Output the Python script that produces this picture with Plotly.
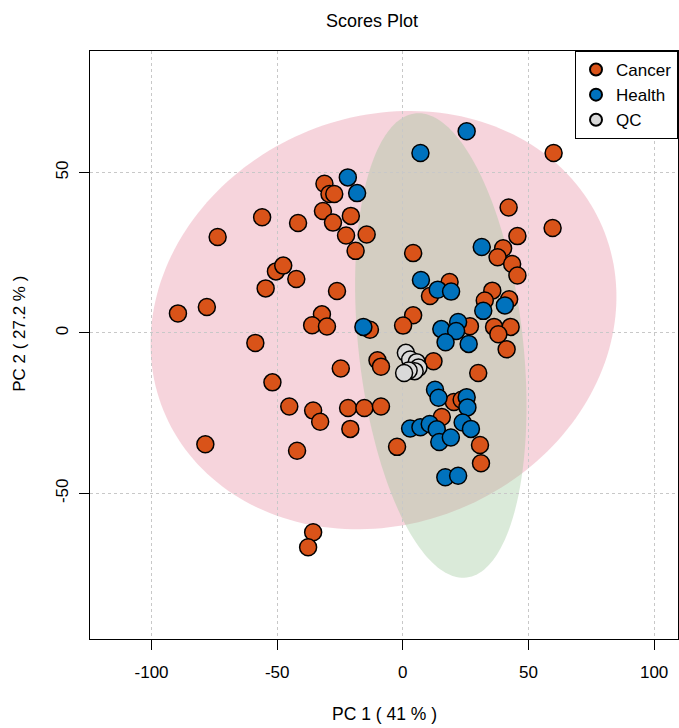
import numpy as np
import plotly.graph_objects as go

# ---- data ----
cancer_x = [-31.2, -29.2, -27.3, -31.8, -20.7, -27.8, -56.0, -41.7, -73.7, -22.6,
            -14.4, -18.8, -50.5, -47.6, -42.4, -54.6, -26.2, -89.5, -78.0, -32.2,
            -36.1, -30.2, -13.1, -58.7, -51.9, -24.7, -10.1, -8.7, -45.2, -35.7,
            -32.9, -21.8, -15.3, -8.7, -20.9, -78.6, -42.1, -2.3, -35.7, -37.7,
            60.0, 42.1, 59.6, 45.6, 39.9, 37.7, 43.5, 45.6, 4.1, 18.6,
            10.8, 35.6, 32.6, 42.3, 4.1, 0.1, 26.7, 36.3, 42.9, 38.0,
            41.3, 12.2, 30.0, 20.3, 23.4, 15.5, 30.7, 31.1]
cancer_y = [46.5, 43.3, 43.3, 38.0, 36.5, 34.4, 36.1, 34.3, 29.9, 30.4,
            30.7, 25.6, 19.2, 21.0, 16.8, 13.9, 13.1, 6.1, 8.1, 5.8,
            2.4, 2.0, 1.0, -3.1, -15.4, -11.1, -8.5, -10.5, -22.9, -24.2,
            -27.7, -23.4, -23.4, -22.9, -29.9, -34.7, -36.7, -35.5, -62.1, -66.8,
            56.1, 39.1, 32.7, 30.2, 26.4, 23.6, 21.5, 17.9, 24.9, 15.9,
            11.5, 13.2, 10.1, 10.5, 5.5, 2.3, 2.1, 1.9, 1.9, -0.4,
            -5.1, -8.8, -12.5, -21.5, -20.8, -26.2, -34.9, -40.6]

health_x = [-21.9, -18.2, 25.4, 7.0, 31.4, 7.2, 13.9, 19.2, 32.0, 40.6,
            -15.7, 15.3, 22.0, 21.2, 17.0, 26.2, 12.8, 14.2, 25.4, 25.7,
            2.9, 7.0, 10.7, 13.5, 23.8, 27.1, 14.5, 19.1, 16.9, 22.0]
health_y = [48.5, 43.6, 62.9, 56.1, 26.8, 16.5, 13.5, 12.9, 6.9, 8.6,
            1.9, 1.2, 3.4, 0.6, -2.9, -3.4, -17.7, -20.2, -20.0, -23.2,
            -29.8, -29.4, -28.4, -30.0, -27.9, -29.9, -34.0, -32.6, -45.0, -44.5]

qc_x = [1.2, 2.9, 5.5, 6.2, 4.7, 2.3, 0.5]
qc_y = [-6.2, -8.3, -9.1, -10.8, -11.9, -11.7, -12.5]

# confidence ellipses: centre and scaled covariance (sxx, syy, sxy)
cancer_ell = dict(cx=-7.7, cy=4.0, sxx=8593.0, syy=4251.0, sxy=677.0)
health_ell = dict(cx=15.1, cy=-3.9, sxx=1163.0, syy=5242.0, sxy=-644.0)

x_ticks = [-100, -50, 0, 50, 100]
x_tick_labels = ["-100", "-50", "0", "50", "100"]
y_ticks = [-50, 0, 50]
y_tick_labels = ["-50", "0", "50"]

title_text = "Scores Plot"
x_title = "PC 1 ( 41 % )"
y_title = "PC 2 ( 27.2 % )"

# ---- styling ----
FONT = "Liberation Sans, Arial, sans-serif"
C_CANCER = "#D95319"
C_HEALTH = "#0072BD"
C_QC = "#D9D9D9"


def ellipse_path(e, n=200):
    m = np.array([[e["sxx"], e["sxy"]], [e["sxy"], e["syy"]]])
    L = np.linalg.cholesky(m)
    t = np.linspace(0, 2 * np.pi, n)
    pts = L @ np.vstack([np.cos(t), np.sin(t)])
    xs = pts[0] + e["cx"]
    ys = pts[1] + e["cy"]
    parts = [f"M {xs[0]:.3f},{ys[0]:.3f}"]
    parts += [f"L {x:.3f},{y:.3f}" for x, y in zip(xs[1:], ys[1:])]
    return " ".join(parts) + " Z"


fig = go.Figure()

marker_line = dict(color="black", width=1.5)
fig.add_trace(go.Scatter(x=cancer_x, y=cancer_y, mode="markers", name="Cancer",
                         marker=dict(size=17, color=C_CANCER, line=marker_line)))
fig.add_trace(go.Scatter(x=health_x, y=health_y, mode="markers", name="Health",
                         marker=dict(size=17, color=C_HEALTH, line=marker_line)))
fig.add_trace(go.Scatter(x=qc_x, y=qc_y, mode="markers", name="QC",
                         marker=dict(size=17, color=C_QC, line=marker_line)))

fig.add_shape(type="path", path=ellipse_path(cancer_ell), xref="x", yref="y",
              fillcolor="rgba(225,112,138,0.30)", line=dict(width=0), layer="below")
fig.add_shape(type="path", path=ellipse_path(health_ell), xref="x", yref="y",
              fillcolor="rgba(150,196,146,0.35)", line=dict(width=0), layer="below")

axis_common = dict(showline=True, mirror=True, linecolor="black", linewidth=1,
                   ticks="outside", ticklen=10, tickwidth=1, tickcolor="black",
                   showgrid=True, gridcolor="#C8C8C8", griddash="dot", gridwidth=1,
                   zeroline=False, tickfont=dict(size=17, color="black", family=FONT))

fig.update_xaxes(range=[-124.5, 109.5], tickvals=x_ticks, ticktext=x_tick_labels,
                 ticklabelstandoff=8, **axis_common)
fig.update_yaxes(range=[-95.4, 87.9], tickvals=y_ticks, ticktext=y_tick_labels,
                 tickangle=-90, ticklabelstandoff=4, **axis_common)

fig.add_annotation(text=title_text, xref="paper", yref="paper", x=0.4796, y=1.051,
                   xanchor="center", yanchor="middle", showarrow=False,
                   font=dict(size=18, color="black", family=FONT))
fig.add_annotation(text=x_title, xref="paper", yref="paper", x=0.5017, y=-0.127,
                   xanchor="center", yanchor="middle", showarrow=False,
                   font=dict(size=17.5, color="black", family=FONT))
fig.add_annotation(text=y_title, xref="paper", yref="paper", x=-0.119, y=0.519,
                   xanchor="center", yanchor="middle", showarrow=False, textangle=-90,
                   font=dict(size=17, color="black", family=FONT))

fig.update_layout(
    width=679, height=728, autosize=False,
    margin=dict(l=90, r=1, t=51, b=89),
    paper_bgcolor="white", plot_bgcolor="white",
    font=dict(family=FONT, color="black"),
    showlegend=True,
    legend=dict(x=1, y=1, xanchor="right", yanchor="top",
                bordercolor="black", borderwidth=1, bgcolor="white",
                font=dict(size=17, color="black", family=FONT),
                itemsizing="constant", tracegroupgap=0),
)

fig.write_html("out.html")
